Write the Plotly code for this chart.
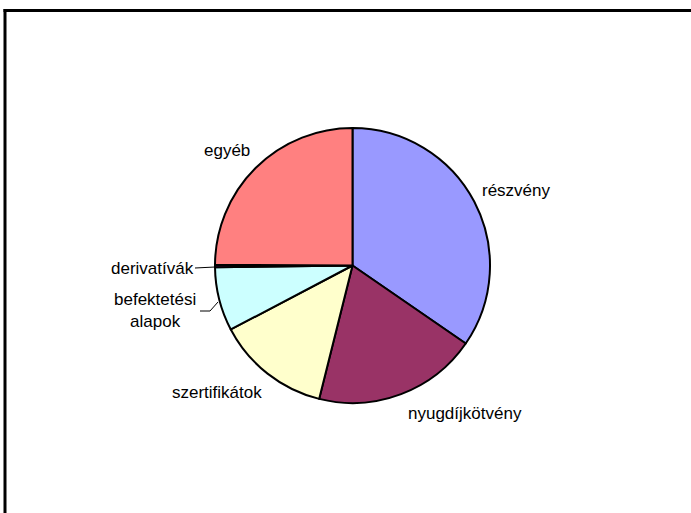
import plotly.graph_objects as go

W, H = 691, 513

categories = ["részvény", "nyugdíjkötvény", "szertifikátok", "befektetési alapok", "derivatívák", "egyéb"]
values = [34.6, 19.3, 13.4, 7.5, 0.3, 24.9]
colors = ["#9999FF", "#993366", "#FFFFCC", "#CCFFFF", "#660066", "#FF8080"]

# label text and pixel positions (label placement only)
label_text = ["részvény", "nyugdíjkötvény", "szertifikátok", "befektetési<br>alapok", "derivatívák", "egyéb"]
label_px = [(516, 190), (465, 413), (217, 392), (155, 310), (152, 268), (227, 151)]

def px(x):
    return x / W

def py(y):
    return 1 - y / H

cx, cy, r = 352.5, 265.5, 137.5

fig = go.Figure(go.Pie(
    labels=categories,
    values=values,
    sort=False,
    direction="clockwise",
    rotation=0,
    marker=dict(colors=colors, line=dict(color="black", width=2)),
    textinfo="none",
    hoverinfo="label+percent",
    showlegend=False,
    domain=dict(x=[px(cx - r), px(cx + r)], y=[py(cy + r), py(cy - r)]),
))

annotations = []
for t, (x, y) in zip(label_text, label_px):
    annotations.append(dict(
        text=t, x=px(x), y=py(y), xref="paper", yref="paper",
        xanchor="center", yanchor="middle", showarrow=False,
        font=dict(family="Liberation Sans, Arial, sans-serif", size=17, color="black"),
        align="center",
    ))

shapes = [
    # chart area frame (top and left visible)
    dict(type="line", xref="paper", yref="paper", x0=px(3.5), x1=px(W + 5), y0=py(10.5), y1=py(10.5),
         line=dict(color="black", width=3)),
    dict(type="line", xref="paper", yref="paper", x0=px(5), x1=px(5), y0=py(9), y1=py(H + 5),
         line=dict(color="black", width=3)),
    # leader lines
    dict(type="line", xref="paper", yref="paper", x0=px(195), x1=px(215), y0=py(268), y1=py(267),
         line=dict(color="black", width=1)),
    dict(type="path", xref="paper", yref="paper",
         path=f"M {px(200)} {py(311)} L {px(210)} {py(311)} L {px(218)} {py(302)}",
         line=dict(color="black", width=1)),
]

fig.update_layout(
    width=W, height=H,
    margin=dict(l=0, r=0, t=0, b=0),
    paper_bgcolor="white",
    plot_bgcolor="white",
    annotations=annotations,
    shapes=shapes,
)

fig.write_html(
    "out.html",
    config={"displayModeBar": False},
    post_script="document.body.style.margin='0';document.body.style.overflow='hidden';",
)
